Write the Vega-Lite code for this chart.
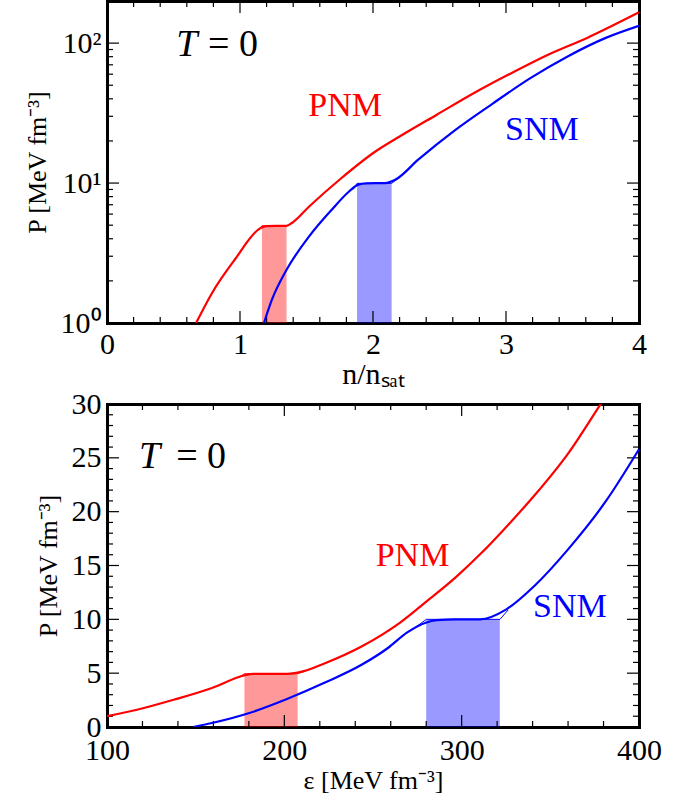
{
  "$schema": "https://vega.github.io/schema/vega-lite/v6.json",
  "background": "white",
  "padding": {"left": 24, "top": 1, "right": 20, "bottom": 2},
  "spacing": 0,
  "config": {
    "font": "Liberation Serif",
    "view": {"stroke": null, "fill": null},
    "axis": {
      "grid": false,
      "ticks": false,
      "labelFont": "Liberation Serif",
      "labelFontSize": 30,
      "labelColor": "black",
      "labelFlush": false,
      "labelOverlap": false,
      "domainColor": "black",
      "domainWidth": 3,
      "domainCap": "square",
      "titleFont": "Liberation Serif",
      "titleFontWeight": "normal",
      "titleColor": "black",
      "titleFontSize": 26
    }
  },
  "datasets": {
    "curves_n": [
      {"matter": "PNM", "n": 0.67, "P": 1.0},
      {"matter": "PNM", "n": 0.79, "P": 1.64},
      {"matter": "PNM", "n": 0.96, "P": 2.83},
      {"matter": "PNM", "n": 1.155, "P": 4.77},
      {"matter": "PNM", "n": 1.2, "P": 4.93},
      {"matter": "PNM", "n": 1.35, "P": 4.95},
      {"matter": "PNM", "n": 1.39, "P": 5.18},
      {"matter": "PNM", "n": 1.52, "P": 6.8},
      {"matter": "PNM", "n": 1.75, "P": 10.6},
      {"matter": "PNM", "n": 2.01, "P": 16.6},
      {"matter": "PNM", "n": 2.2, "P": 21.5},
      {"matter": "PNM", "n": 2.48, "P": 30.8},
      {"matter": "PNM", "n": 2.76, "P": 44},
      {"matter": "PNM", "n": 3.04, "P": 61},
      {"matter": "PNM", "n": 3.32, "P": 83},
      {"matter": "PNM", "n": 3.61, "P": 109},
      {"matter": "PNM", "n": 4.0, "P": 166},
      {"matter": "SNM", "n": 1.18, "P": 1.0},
      {"matter": "SNM", "n": 1.24, "P": 1.47},
      {"matter": "SNM", "n": 1.35, "P": 2.4},
      {"matter": "SNM", "n": 1.52, "P": 4.16},
      {"matter": "SNM", "n": 1.69, "P": 6.45},
      {"matter": "SNM", "n": 1.82, "P": 8.7},
      {"matter": "SNM", "n": 1.89, "P": 9.75},
      {"matter": "SNM", "n": 1.95, "P": 9.95},
      {"matter": "SNM", "n": 2.09, "P": 10.0},
      {"matter": "SNM", "n": 2.17, "P": 10.6},
      {"matter": "SNM", "n": 2.34, "P": 14.7},
      {"matter": "SNM", "n": 2.62, "P": 24},
      {"matter": "SNM", "n": 2.9, "P": 37},
      {"matter": "SNM", "n": 3.18, "P": 56},
      {"matter": "SNM", "n": 3.46, "P": 80},
      {"matter": "SNM", "n": 3.75, "P": 109},
      {"matter": "SNM", "n": 4.0, "P": 133}
    ],
    "maxwell_n": [
      {"matter": "PNM", "n": 1.14, "P": 4.6},
      {"matter": "PNM", "n": 1.165, "P": 4.95},
      {"matter": "PNM", "n": 1.35, "P": 4.95},
      {"matter": "PNM", "n": 1.39, "P": 5.15},
      {"matter": "SNM", "n": 1.85, "P": 9.0},
      {"matter": "SNM", "n": 1.88, "P": 9.95},
      {"matter": "SNM", "n": 2.14, "P": 9.95},
      {"matter": "SNM", "n": 2.19, "P": 10.8}
    ],
    "bands_n": [
      {"matter": "PNM", "n_lo": 1.165, "n_hi": 1.35, "P": 4.95},
      {"matter": "SNM", "n_lo": 1.88, "n_hi": 2.14, "P": 9.95}
    ],
    "names_n": [
      {"matter": "PNM", "n": 1.79, "P": 35.7},
      {"matter": "SNM", "n": 3.27, "P": 23.8}
    ],
    "temp_n": [
      {"part": "T", "n": 0.6, "P": 97},
      {"part": "= 0", "n": 0.76, "P": 97}
    ],
    "xticks_n": [
      {"value": 0.2, "kind": "minor"}, {"value": 0.4, "kind": "minor"}, {"value": 0.6, "kind": "minor"}, {"value": 0.8, "kind": "minor"},
      {"value": 1, "kind": "major"},
      {"value": 1.2, "kind": "minor"}, {"value": 1.4, "kind": "minor"}, {"value": 1.6, "kind": "minor"}, {"value": 1.8, "kind": "minor"},
      {"value": 2, "kind": "major"},
      {"value": 2.2, "kind": "minor"}, {"value": 2.4, "kind": "minor"}, {"value": 2.6, "kind": "minor"}, {"value": 2.8, "kind": "minor"},
      {"value": 3, "kind": "major"},
      {"value": 3.2, "kind": "minor"}, {"value": 3.4, "kind": "minor"}, {"value": 3.6, "kind": "minor"}, {"value": 3.8, "kind": "minor"}
    ],
    "yticks_n": [
      {"value": 2, "kind": "minor"}, {"value": 3, "kind": "minor"}, {"value": 4, "kind": "minor"}, {"value": 5, "kind": "minor"},
      {"value": 6, "kind": "minor"}, {"value": 7, "kind": "minor"}, {"value": 8, "kind": "minor"}, {"value": 9, "kind": "minor"},
      {"value": 10, "kind": "major"},
      {"value": 20, "kind": "minor"}, {"value": 30, "kind": "minor"}, {"value": 40, "kind": "minor"}, {"value": 50, "kind": "minor"},
      {"value": 60, "kind": "minor"}, {"value": 70, "kind": "minor"}, {"value": 80, "kind": "minor"}, {"value": 90, "kind": "minor"},
      {"value": 100, "kind": "major"}
    ],
    "curves_e": [
      {"matter": "PNM", "eps": 100, "P": 1.0},
      {"matter": "PNM", "eps": 116.9, "P": 1.6},
      {"matter": "PNM", "eps": 138, "P": 2.55},
      {"matter": "PNM", "eps": 159.2, "P": 3.63},
      {"matter": "PNM", "eps": 177.2, "P": 4.78},
      {"matter": "PNM", "eps": 182.5, "P": 4.94},
      {"matter": "PNM", "eps": 201.5, "P": 4.94},
      {"matter": "PNM", "eps": 211, "P": 5.19},
      {"matter": "PNM", "eps": 222.6, "P": 5.9},
      {"matter": "PNM", "eps": 243.8, "P": 7.5},
      {"matter": "PNM", "eps": 264.9, "P": 9.65},
      {"matter": "PNM", "eps": 279.7, "P": 11.6},
      {"matter": "PNM", "eps": 296.6, "P": 13.9},
      {"matter": "PNM", "eps": 311.4, "P": 16.2},
      {"matter": "PNM", "eps": 324.1, "P": 18.4},
      {"matter": "PNM", "eps": 341, "P": 21.5},
      {"matter": "PNM", "eps": 360, "P": 25.4},
      {"matter": "PNM", "eps": 378, "P": 29.9},
      {"matter": "PNM", "eps": 382, "P": 30.9},
      {"matter": "SNM", "eps": 148.6, "P": 0},
      {"matter": "SNM", "eps": 159.2, "P": 0.37},
      {"matter": "SNM", "eps": 180.3, "P": 1.3},
      {"matter": "SNM", "eps": 201.5, "P": 2.6},
      {"matter": "SNM", "eps": 222.6, "P": 4.1},
      {"matter": "SNM", "eps": 243.8, "P": 5.8},
      {"matter": "SNM", "eps": 258.6, "P": 7.36},
      {"matter": "SNM", "eps": 269.1, "P": 8.76},
      {"matter": "SNM", "eps": 279.7, "P": 9.69},
      {"matter": "SNM", "eps": 286, "P": 9.92},
      {"matter": "SNM", "eps": 296.6, "P": 10.0},
      {"matter": "SNM", "eps": 310.4, "P": 10.0},
      {"matter": "SNM", "eps": 325.2, "P": 10.93},
      {"matter": "SNM", "eps": 341, "P": 13.1},
      {"matter": "SNM", "eps": 360, "P": 16.5},
      {"matter": "SNM", "eps": 381, "P": 20.9},
      {"matter": "SNM", "eps": 400, "P": 25.8}
    ],
    "maxwell_e": [
      {"matter": "PNM", "eps": 174, "P": 4.6},
      {"matter": "PNM", "eps": 177.6, "P": 4.95},
      {"matter": "PNM", "eps": 207.5, "P": 4.95},
      {"matter": "PNM", "eps": 212, "P": 5.2},
      {"matter": "SNM", "eps": 274.4, "P": 9.32},
      {"matter": "SNM", "eps": 280.1, "P": 10.0},
      {"matter": "SNM", "eps": 321.6, "P": 10.0},
      {"matter": "SNM", "eps": 326.2, "P": 10.87}
    ],
    "bands_e": [
      {"matter": "PNM", "e_lo": 177.5, "e_hi": 207.5, "P": 4.95},
      {"matter": "SNM", "e_lo": 280, "e_hi": 321.5, "P": 10.0}
    ],
    "names_e": [
      {"matter": "PNM", "eps": 272.3, "P": 15.9},
      {"matter": "SNM", "eps": 361, "P": 11.1}
    ],
    "temp_e": [
      {"part": "T", "eps": 124, "P": 25.1},
      {"part": "= 0", "eps": 139, "P": 25.1}
    ],
    "xticks_e": [
      {"value": 120, "kind": "minor"}, {"value": 140, "kind": "minor"}, {"value": 160, "kind": "minor"}, {"value": 180, "kind": "minor"},
      {"value": 200, "kind": "major"},
      {"value": 220, "kind": "minor"}, {"value": 240, "kind": "minor"}, {"value": 260, "kind": "minor"}, {"value": 280, "kind": "minor"},
      {"value": 300, "kind": "major"},
      {"value": 320, "kind": "minor"}, {"value": 340, "kind": "minor"}, {"value": 360, "kind": "minor"}, {"value": 380, "kind": "minor"}
    ],
    "yticks_e": [
      {"value": 1, "kind": "minor"}, {"value": 2, "kind": "minor"}, {"value": 3, "kind": "minor"}, {"value": 4, "kind": "minor"},
      {"value": 5, "kind": "major"},
      {"value": 6, "kind": "minor"}, {"value": 7, "kind": "minor"}, {"value": 8, "kind": "minor"}, {"value": 9, "kind": "minor"},
      {"value": 10, "kind": "major"},
      {"value": 11, "kind": "minor"}, {"value": 12, "kind": "minor"}, {"value": 13, "kind": "minor"}, {"value": 14, "kind": "minor"},
      {"value": 15, "kind": "major"},
      {"value": 16, "kind": "minor"}, {"value": 17, "kind": "minor"}, {"value": 18, "kind": "minor"}, {"value": 19, "kind": "minor"},
      {"value": 20, "kind": "major"},
      {"value": 21, "kind": "minor"}, {"value": 22, "kind": "minor"}, {"value": 23, "kind": "minor"}, {"value": 24, "kind": "minor"},
      {"value": 25, "kind": "major"},
      {"value": 26, "kind": "minor"}, {"value": 27, "kind": "minor"}, {"value": 28, "kind": "minor"}, {"value": 29, "kind": "minor"}
    ]
  },
  "vconcat": [
    {
      "width": 532,
      "height": 322,
      "resolve": {"axis": {"x": "independent", "y": "independent"}},
      "layer": [
        {
          "data": {"name": "bands_n"},
          "mark": {"type": "rect", "opacity": 0.4},
          "encoding": {
            "x": {"field": "n_lo", "type": "quantitative",
                  "scale": {"domain": [0, 4], "nice": false, "zero": false},
                  "axis": {"orient": "bottom", "values": [0, 1, 2, 3, 4], "format": "d",
                           "labelPadding": 6, "title": "n/nₛₐₜ", "titleFontSize": 30, "titlePadding": 0}},
            "x2": {"field": "n_hi"},
            "y": {"field": "P", "type": "quantitative",
                  "scale": {"type": "log", "domain": [1, 200], "nice": false},
                  "axis": {"orient": "left", "values": [1, 10, 100],
                           "labelExpr": "datum.value == 1 ? '10⁰' : datum.value == 10 ? '10¹' : '10²'",
                           "labelPadding": 6, "title": "P [MeV fm⁻³]", "titlePadding": 10}},
            "y2": {"datum": 1},
            "color": {"field": "matter", "type": "nominal",
                      "scale": {"domain": ["PNM", "SNM"], "range": ["#ff0000", "#0000ff"]}, "legend": null}
          }
        },
        {
          "data": {"name": "xticks_n"},
          "transform": [{"filter": "datum.kind == 'major'"}],
          "mark": {"type": "tick", "orient": "vertical", "color": "black", "opacity": 1, "thickness": 1.2, "size": 12, "yOffset": -6},
          "encoding": {
            "x": {"field": "value", "type": "quantitative", "axis": {"orient": "top", "labels": false, "title": null}},
            "y": {"datum": 1, "type": "quantitative", "axis": null}
          }
        },
        {
          "data": {"name": "xticks_n"},
          "transform": [{"filter": "datum.kind == 'minor'"}],
          "mark": {"type": "tick", "orient": "vertical", "color": "black", "opacity": 1, "thickness": 1.2, "size": 6, "yOffset": -3},
          "encoding": {
            "x": {"field": "value", "type": "quantitative", "axis": null},
            "y": {"datum": 1, "type": "quantitative", "axis": null}
          }
        },
        {
          "data": {"name": "xticks_n"},
          "transform": [{"filter": "datum.kind == 'major'"}],
          "mark": {"type": "tick", "orient": "vertical", "color": "black", "opacity": 1, "thickness": 1.2, "size": 12, "yOffset": 6},
          "encoding": {
            "x": {"field": "value", "type": "quantitative", "axis": null},
            "y": {"datum": 200, "type": "quantitative", "axis": null}
          }
        },
        {
          "data": {"name": "xticks_n"},
          "transform": [{"filter": "datum.kind == 'minor'"}],
          "mark": {"type": "tick", "orient": "vertical", "color": "black", "opacity": 1, "thickness": 1.2, "size": 6, "yOffset": 3},
          "encoding": {
            "x": {"field": "value", "type": "quantitative", "axis": null},
            "y": {"datum": 200, "type": "quantitative", "axis": null}
          }
        },
        {
          "data": {"name": "yticks_n"},
          "transform": [{"filter": "datum.kind == 'major'"}],
          "mark": {"type": "tick", "orient": "horizontal", "color": "black", "opacity": 1, "thickness": 1.2, "size": 12, "xOffset": 6},
          "encoding": {
            "y": {"field": "value", "type": "quantitative", "axis": {"orient": "right", "labels": false, "title": null}},
            "x": {"datum": 0, "type": "quantitative", "axis": null}
          }
        },
        {
          "data": {"name": "yticks_n"},
          "transform": [{"filter": "datum.kind == 'minor'"}],
          "mark": {"type": "tick", "orient": "horizontal", "color": "black", "opacity": 1, "thickness": 1.2, "size": 6, "xOffset": 3},
          "encoding": {
            "y": {"field": "value", "type": "quantitative", "axis": null},
            "x": {"datum": 0, "type": "quantitative", "axis": null}
          }
        },
        {
          "data": {"name": "yticks_n"},
          "transform": [{"filter": "datum.kind == 'major'"}],
          "mark": {"type": "tick", "orient": "horizontal", "color": "black", "opacity": 1, "thickness": 1.2, "size": 12, "xOffset": -6},
          "encoding": {
            "y": {"field": "value", "type": "quantitative", "axis": null},
            "x": {"datum": 4, "type": "quantitative", "axis": null}
          }
        },
        {
          "data": {"name": "yticks_n"},
          "transform": [{"filter": "datum.kind == 'minor'"}],
          "mark": {"type": "tick", "orient": "horizontal", "color": "black", "opacity": 1, "thickness": 1.2, "size": 6, "xOffset": -3},
          "encoding": {
            "y": {"field": "value", "type": "quantitative", "axis": null},
            "x": {"datum": 4, "type": "quantitative", "axis": null}
          }
        },
        {
          "data": {"name": "curves_n"},
          "mark": {"type": "line", "strokeWidth": 2.2, "clip": true, "interpolate": "monotone"},
          "encoding": {
            "x": {"field": "n", "type": "quantitative", "axis": null},
            "y": {"field": "P", "type": "quantitative", "axis": null},
            "color": {"field": "matter", "type": "nominal", "legend": null}
          }
        },
        {
          "data": {"name": "maxwell_n"},
          "mark": {"type": "line", "strokeWidth": 1, "clip": true},
          "encoding": {
            "x": {"field": "n", "type": "quantitative", "axis": null},
            "y": {"field": "P", "type": "quantitative", "axis": null},
            "color": {"field": "matter", "type": "nominal", "legend": null}
          }
        },
        {
          "data": {"name": "names_n"},
          "mark": {"type": "text", "fontSize": 34, "font": "Liberation Serif", "baseline": "middle", "align": "center"},
          "encoding": {
            "x": {"field": "n", "type": "quantitative", "axis": null},
            "y": {"field": "P", "type": "quantitative", "axis": null},
            "text": {"field": "matter"},
            "color": {"field": "matter", "type": "nominal", "legend": null}
          }
        },
        {
          "data": {"name": "temp_n"},
          "transform": [{"filter": "datum.part == 'T'"}],
          "mark": {"type": "text", "fontSize": 38, "fontStyle": "italic", "font": "Liberation Serif", "baseline": "middle", "align": "center", "color": "black"},
          "encoding": {
            "x": {"field": "n", "type": "quantitative", "axis": null},
            "y": {"field": "P", "type": "quantitative", "axis": null},
            "text": {"field": "part"}
          }
        },
        {
          "data": {"name": "temp_n"},
          "transform": [{"filter": "datum.part != 'T'"}],
          "mark": {"type": "text", "fontSize": 38, "font": "Liberation Serif", "baseline": "middle", "align": "left", "color": "black"},
          "encoding": {
            "x": {"field": "n", "type": "quantitative", "axis": null},
            "y": {"field": "P", "type": "quantitative", "axis": null},
            "text": {"field": "part"}
          }
        }
      ]
    },
    {
      "width": 532,
      "height": 323,
      "resolve": {"axis": {"x": "independent", "y": "independent"}},
      "layer": [
        {
          "data": {"name": "bands_e"},
          "mark": {"type": "rect", "opacity": 0.4},
          "encoding": {
            "x": {"field": "e_lo", "type": "quantitative",
                  "scale": {"domain": [100, 400], "nice": false, "zero": false},
                  "axis": {"orient": "bottom", "values": [100, 200, 300, 400], "format": "d",
                           "labelPadding": 8, "title": "ε [MeV fm⁻³]", "titlePadding": 2}},
            "x2": {"field": "e_hi"},
            "y": {"field": "P", "type": "quantitative",
                  "scale": {"domain": [0, 30], "nice": false},
                  "axis": {"orient": "left", "values": [0, 5, 10, 15, 20, 25, 30], "format": "d",
                           "labelPadding": 6, "title": "P [MeV fm⁻³]", "titlePadding": 10}},
            "y2": {"datum": 0},
            "color": {"field": "matter", "type": "nominal",
                      "scale": {"domain": ["PNM", "SNM"], "range": ["#ff0000", "#0000ff"]}, "legend": null}
          }
        },
        {
          "data": {"name": "xticks_e"},
          "transform": [{"filter": "datum.kind == 'major'"}],
          "mark": {"type": "tick", "orient": "vertical", "color": "black", "opacity": 1, "thickness": 1.2, "size": 12, "yOffset": -6},
          "encoding": {
            "x": {"field": "value", "type": "quantitative", "axis": {"orient": "top", "labels": false, "title": null}},
            "y": {"datum": 0, "type": "quantitative", "axis": null}
          }
        },
        {
          "data": {"name": "xticks_e"},
          "transform": [{"filter": "datum.kind == 'minor'"}],
          "mark": {"type": "tick", "orient": "vertical", "color": "black", "opacity": 1, "thickness": 1.2, "size": 6, "yOffset": -3},
          "encoding": {
            "x": {"field": "value", "type": "quantitative", "axis": null},
            "y": {"datum": 0, "type": "quantitative", "axis": null}
          }
        },
        {
          "data": {"name": "xticks_e"},
          "transform": [{"filter": "datum.kind == 'major'"}],
          "mark": {"type": "tick", "orient": "vertical", "color": "black", "opacity": 1, "thickness": 1.2, "size": 12, "yOffset": 6},
          "encoding": {
            "x": {"field": "value", "type": "quantitative", "axis": null},
            "y": {"datum": 30, "type": "quantitative", "axis": null}
          }
        },
        {
          "data": {"name": "xticks_e"},
          "transform": [{"filter": "datum.kind == 'minor'"}],
          "mark": {"type": "tick", "orient": "vertical", "color": "black", "opacity": 1, "thickness": 1.2, "size": 6, "yOffset": 3},
          "encoding": {
            "x": {"field": "value", "type": "quantitative", "axis": null},
            "y": {"datum": 30, "type": "quantitative", "axis": null}
          }
        },
        {
          "data": {"name": "yticks_e"},
          "transform": [{"filter": "datum.kind == 'major'"}],
          "mark": {"type": "tick", "orient": "horizontal", "color": "black", "opacity": 1, "thickness": 1.2, "size": 12, "xOffset": 6},
          "encoding": {
            "y": {"field": "value", "type": "quantitative", "axis": {"orient": "right", "labels": false, "title": null}},
            "x": {"datum": 100, "type": "quantitative", "axis": null}
          }
        },
        {
          "data": {"name": "yticks_e"},
          "transform": [{"filter": "datum.kind == 'minor'"}],
          "mark": {"type": "tick", "orient": "horizontal", "color": "black", "opacity": 1, "thickness": 1.2, "size": 6, "xOffset": 3},
          "encoding": {
            "y": {"field": "value", "type": "quantitative", "axis": null},
            "x": {"datum": 100, "type": "quantitative", "axis": null}
          }
        },
        {
          "data": {"name": "yticks_e"},
          "transform": [{"filter": "datum.kind == 'major'"}],
          "mark": {"type": "tick", "orient": "horizontal", "color": "black", "opacity": 1, "thickness": 1.2, "size": 12, "xOffset": -6},
          "encoding": {
            "y": {"field": "value", "type": "quantitative", "axis": null},
            "x": {"datum": 400, "type": "quantitative", "axis": null}
          }
        },
        {
          "data": {"name": "yticks_e"},
          "transform": [{"filter": "datum.kind == 'minor'"}],
          "mark": {"type": "tick", "orient": "horizontal", "color": "black", "opacity": 1, "thickness": 1.2, "size": 6, "xOffset": -3},
          "encoding": {
            "y": {"field": "value", "type": "quantitative", "axis": null},
            "x": {"datum": 400, "type": "quantitative", "axis": null}
          }
        },
        {
          "data": {"name": "curves_e"},
          "mark": {"type": "line", "strokeWidth": 2.2, "clip": true, "interpolate": "monotone"},
          "encoding": {
            "x": {"field": "eps", "type": "quantitative", "axis": null},
            "y": {"field": "P", "type": "quantitative", "axis": null},
            "color": {"field": "matter", "type": "nominal", "legend": null}
          }
        },
        {
          "data": {"name": "maxwell_e"},
          "mark": {"type": "line", "strokeWidth": 1, "clip": true},
          "encoding": {
            "x": {"field": "eps", "type": "quantitative", "axis": null},
            "y": {"field": "P", "type": "quantitative", "axis": null},
            "color": {"field": "matter", "type": "nominal", "legend": null}
          }
        },
        {
          "data": {"name": "names_e"},
          "mark": {"type": "text", "fontSize": 34, "font": "Liberation Serif", "baseline": "middle", "align": "center"},
          "encoding": {
            "x": {"field": "eps", "type": "quantitative", "axis": null},
            "y": {"field": "P", "type": "quantitative", "axis": null},
            "text": {"field": "matter"},
            "color": {"field": "matter", "type": "nominal", "legend": null}
          }
        },
        {
          "data": {"name": "temp_e"},
          "transform": [{"filter": "datum.part == 'T'"}],
          "mark": {"type": "text", "fontSize": 38, "fontStyle": "italic", "font": "Liberation Serif", "baseline": "middle", "align": "center", "color": "black"},
          "encoding": {
            "x": {"field": "eps", "type": "quantitative", "axis": null},
            "y": {"field": "P", "type": "quantitative", "axis": null},
            "text": {"field": "part"}
          }
        },
        {
          "data": {"name": "temp_e"},
          "transform": [{"filter": "datum.part != 'T'"}],
          "mark": {"type": "text", "fontSize": 38, "font": "Liberation Serif", "baseline": "middle", "align": "left", "color": "black"},
          "encoding": {
            "x": {"field": "eps", "type": "quantitative", "axis": null},
            "y": {"field": "P", "type": "quantitative", "axis": null},
            "text": {"field": "part"}
          }
        }
      ]
    }
  ]
}
